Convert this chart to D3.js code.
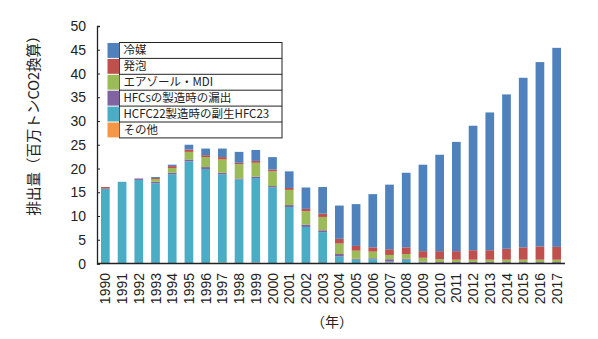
<!DOCTYPE html>
<html>
<head>
<meta charset="utf-8">
<script src="https://cdn.jsdelivr.net/npm/d3@7"></script>
<style>
  body { margin: 0; background: #fff; }
  svg text { font-family: "Liberation Sans", Arial, "Noto Sans CJK JP", sans-serif; fill: #222; }
  .jp { font-family: "Noto Sans CJK JP", sans-serif; }
</style>
</head>
<body>
<svg id="chart" width="598" height="339"></svg>
<script>
const years = d3.range(1990, 2018).map(String);

// series, bottom of the stack first
const sonota   = [0, 0, 0, 0, 0, 0, 0, 0.2, 0, 0.2, 0, 0, 0, 0, 0, 0, 0, 0.2, 0, 0.1, 0.1, 0.1, 0.1, 0.1, 0.1, 0.1, 0.1, 0.1];
const hfc23    = [15.7, 17.2, 17.6, 16.9, 18.8, 21.5, 19.9, 18.6, 17.7, 17.8, 16.0, 11.9, 7.7, 6.6, 1.5, 0.8, 0.9, 0.2, 0.8, 0.1, 0, 0, 0, 0, 0, 0, 0, 0];
const hfcsMfg  = [0.1, 0, 0.3, 0.3, 0.3, 0.4, 0.4, 0.3, 0.2, 0.3, 0.3, 0.4, 0.5, 0.4, 0.5, 0.2, 0.2, 0.5, 0.2, 0.2, 0.2, 0.2, 0.2, 0.2, 0.2, 0.2, 0.2, 0.2];
const aerosol  = [0, 0, 0, 0.6, 1.0, 1.6, 2.1, 2.8, 3.0, 2.9, 3.1, 3.2, 2.8, 2.8, 2.2, 1.7, 1.4, 0.9, 1.0, 0.8, 0.6, 0.5, 0.5, 0.5, 0.5, 0.5, 0.5, 0.5];
const foam     = [0.3, 0, 0, 0.2, 0.4, 0.5, 0.4, 0.5, 0.3, 0.4, 0.4, 0.4, 0.5, 0.7, 1.0, 1.0, 0.9, 1.2, 1.4, 1.4, 1.7, 1.8, 2.0, 2.0, 2.3, 2.6, 2.8, 2.7];
const reibai   = [0, 0, 0, 0.2, 0.3, 1.0, 1.4, 1.8, 2.3, 2.3, 2.6, 3.5, 4.5, 5.6, 7.0, 8.8, 11.2, 13.6, 15.7, 18.2, 20.3, 23.0, 26.2, 29.0, 32.5, 35.7, 38.8, 41.9];

const seriesNames = ['その他', 'HCFC22製造時の副生HFC23', 'HFCsの製造時の漏出', 'エアゾール・MDI', '発泡', '冷媒'];
const seriesValues = [sonota, hfc23, hfcsMfg, aerosol, foam, reibai];
const seriesColors = ['#F79646', '#4BACC6', '#8064A2', '#9BBB59', '#C0504D', '#4F81BD'];
const yTicks = d3.range(0, 51, 5);

const svg = d3.select('#chart');
const plotLeft = 97, plotRight = 565, plotTop = 26, plotBottom = 263.5;

const x = d3.scaleBand().domain(years).range([plotLeft, plotRight]).paddingInner(0.48).paddingOuter(0.24);
const y = d3.scaleLinear().domain([0, 50]).range([plotBottom, plotTop]);

const rows = years.map((yr, i) => {
    const r = { year: yr };
    seriesNames.forEach((n, k) => { r[n] = seriesValues[k][i]; });
    return r;
});
const stacked = d3.stack().keys(seriesNames)(rows);

// bars
svg.append('g').selectAll('g')
    .data(stacked)
    .join('g')
    .attr('fill', (d, i) => seriesColors[i])
    .selectAll('rect')
    .data(d => d)
    .join('rect')
    .attr('x', d => x(d.data.year))
    .attr('width', x.bandwidth())
    .attr('y', d => y(d[1]))
    .attr('height', d => Math.max(0, y(d[0]) - y(d[1])));

// y axis (ticks pointing inward)
const yAxis = svg.append('g')
    .attr('transform', `translate(${plotLeft},0)`)
    .call(d3.axisRight(y).tickValues(yTicks).tickSize(3).tickFormat(''));
yAxis.select('.domain').attr('stroke', '#222').attr('stroke-width', 1.3);
yAxis.selectAll('.tick line').attr('stroke', '#222');

svg.append('g').selectAll('text')
    .data(yTicks)
    .join('text')
    .attr('x', 86)
    .attr('y', d => y(d) + 5)
    .attr('text-anchor', 'end')
    .attr('font-size', 14)
    .text(d => d);

// x axis
svg.append('line')
    .attr('x1', plotLeft).attr('x2', plotRight)
    .attr('y1', plotBottom).attr('y2', plotBottom)
    .attr('stroke', '#222').attr('stroke-width', 1.3);

svg.append('g').selectAll('text')
    .data(years)
    .join('text')
    .attr('transform', d => `translate(${x(d) + x.bandwidth() / 2 + 5},273) rotate(-90)`)
    .attr('text-anchor', 'end')
    .attr('font-size', 14)
    .text(d => d);

svg.append('text')
    .attr('class', 'jp')
    .attr('x', 332).attr('y', 327)
    .attr('text-anchor', 'middle')
    .attr('font-size', 14)
    .text('（年）');

svg.append('text')
    .attr('class', 'jp')
    .attr('transform', 'translate(39,122) rotate(-90)')
    .attr('text-anchor', 'middle')
    .attr('font-size', 14.5)
    .text('排出量（百万トンCO2換算）');

// legend (top series first)
const legTop = 42.5, rowH = 15.9, swLeft = 107.5, swW = 12, boxRight = 282;
const legItems = seriesNames.map((n, i) => ({ name: n, color: seriesColors[i] })).reverse();
const leg = svg.append('g');
leg.append('rect')
    .attr('x', swLeft + swW).attr('y', legTop)
    .attr('width', boxRight - swLeft - swW).attr('height', rowH * legItems.length)
    .attr('fill', '#fff').attr('stroke', '#222').attr('stroke-width', 1);
const row = leg.selectAll('g.row')
    .data(legItems)
    .join('g')
    .attr('class', 'row')
    .attr('transform', (d, i) => `translate(0,${legTop + i * rowH})`);
row.append('rect')
    .attr('x', swLeft).attr('y', 0.5)
    .attr('width', swW).attr('height', rowH - 1)
    .attr('fill', d => d.color);
row.filter((d, i) => i > 0).append('line')
    .attr('x1', swLeft + swW).attr('x2', boxRight)
    .attr('y1', 0).attr('y2', 0)
    .attr('stroke', '#222');
row.append('text')
    .attr('class', 'jp')
    .attr('x', swLeft + swW + 4)
    .attr('y', rowH / 2 + 4)
    .attr('font-size', 11.5)
    .text(d => d.name);
</script>
</body>
</html>
